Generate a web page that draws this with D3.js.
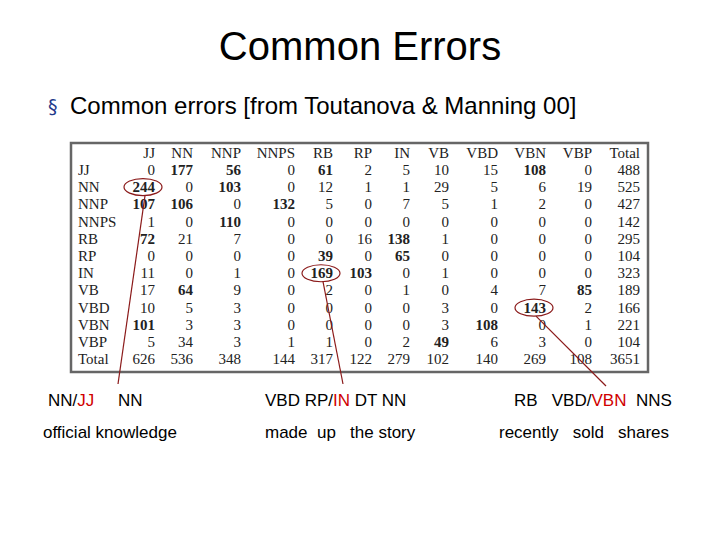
<!DOCTYPE html><html><head><meta charset="utf-8"><script src="https://cdn.jsdelivr.net/npm/d3@7"></script>
<style>body{margin:0;background:#fff}</style></head><body><script>
const cols=["JJ","NN","NNP","NNPS","RB","RP","IN","VB","VBD","VBN","VBP","Total"];
const rows=["JJ","NN","NNP","NNPS","RB","RP","IN","VB","VBD","VBN","VBP","Total"];
const values=[
[0,177,56,0,61,2,5,10,15,108,0,488],
[244,0,103,0,12,1,1,29,5,6,19,525],
[107,106,0,132,5,0,7,5,1,2,0,427],
[1,0,110,0,0,0,0,0,0,0,0,142],
[72,21,7,0,0,16,138,1,0,0,0,295],
[0,0,0,0,39,0,65,0,0,0,0,104],
[11,0,1,0,169,103,0,1,0,0,0,323],
[17,64,9,0,2,0,1,0,4,7,85,189],
[10,5,3,0,0,0,0,3,0,143,2,166],
[101,3,3,0,0,0,0,3,108,0,1,221],
[5,34,3,1,1,0,2,49,6,3,0,104],
[626,536,348,144,317,122,279,102,140,269,108,3651]];
const bold=[[0,1],[0,2],[0,4],[0,9],[1,0],[1,2],[2,0],[2,1],[2,3],[3,2],[4,0],[4,6],[5,4],[5,6],[6,4],[6,5],[7,1],[7,10],[8,9],[9,0],[9,8],[10,7]];
const circled=[[1,0],[6,4],[8,9]];
const examples=[{tags:[["NN/",0],["JJ",1],["     NN",0]],words:"official knowledge"},
{tags:[["VBD RP/",0],["IN",1],[" DT NN",0]],words:"made  up   the story"},
{tags:[["RB   VBD/",0],["VBN",1],["  NNS",0]],words:"recently   sold   shares"}];
const W=720,H=540;
const svg=d3.select("body").append("svg").attr("width",W).attr("height",H);
svg.append("text").attr("x",360).attr("y",60).attr("text-anchor","middle").attr("font-family","Liberation Sans").attr("font-size",40).text("Common Errors");
svg.append("text").attr("x",48).attr("y",113).attr("font-family","DejaVu Sans").attr("font-size",19).attr("fill","#1f3a8a").text("§");
svg.append("text").attr("x",70).attr("y",114).attr("font-family","Liberation Sans").attr("font-size",24).text("Common errors [from Toutanova & Manning 00]");
svg.append("rect").attr("x",71).attr("y",143).attr("width",577).attr("height",229).attr("fill","#fff").attr("stroke","#666").attr("stroke-width",2.5);
const colRight=[155,193,241,295,333,372,410,449,498,546,592,640];
const x=d3.scaleOrdinal().domain(cols).range(colRight);
const y=d3.scaleBand().domain(["hdr",...rows.map((r,i)=>"r"+i)]).range([144,368]);
const tf="Liberation Serif",fs=15;
svg.selectAll(".h").data(cols).join("text").attr("x",d=>x(d)).attr("y",y("hdr")+y.bandwidth()/2+5).attr("text-anchor","end").attr("font-family",tf).attr("font-size",fs).attr("fill","#222").text(d=>d);
svg.selectAll(".rl").data(rows).join("text").attr("x",78).attr("y",(d,i)=>y("r"+i)+y.bandwidth()/2+5).attr("font-family",tf).attr("font-size",fs).attr("fill","#222").text(d=>d);
const isB=(i,j)=>bold.some(b=>b[0]==i&&b[1]==j);
values.forEach((row,i)=>{svg.selectAll(".c"+i).data(row).join("text").attr("x",(d,j)=>x(cols[j])).attr("y",y("r"+i)+y.bandwidth()/2+5).attr("text-anchor","end").attr("font-family",tf).attr("font-size",fs).attr("font-weight",(d,j)=>isB(i,j)?"bold":"normal").attr("fill","#222").text(d=>d);});
const targets=[[118,384],[343,384],[606,386]];
circled.forEach(([i,j],k)=>{const cx=x(cols[j])-12,cy=y("r"+i)+y.bandwidth()/2;
svg.append("ellipse").attr("cx",cx).attr("cy",cy).attr("rx",19).attr("ry",8.5).attr("fill","none").attr("stroke","#8b1a1a").attr("stroke-width",1.2);
svg.append("line").attr("x1",cx+2).attr("y1",cy+8.5).attr("x2",targets[k][0]).attr("y2",targets[k][1]).attr("stroke","#8b1a1a").attr("stroke-width",1.2);});
const ex=[48,265,514],wx=[43,265,499];
examples.forEach((e,k)=>{const t=svg.append("text").attr("x",ex[k]).attr("y",406).attr("font-family","Liberation Sans").attr("font-size",17).style("white-space","pre");
e.tags.forEach(p=>t.append("tspan").attr("fill",p[1]?"#d00000":"#000").text(p[0]));
svg.append("text").attr("x",wx[k]).attr("y",438).attr("font-family","Liberation Sans").attr("font-size",17).style("white-space","pre").text(e.words);});
</script></body></html>
